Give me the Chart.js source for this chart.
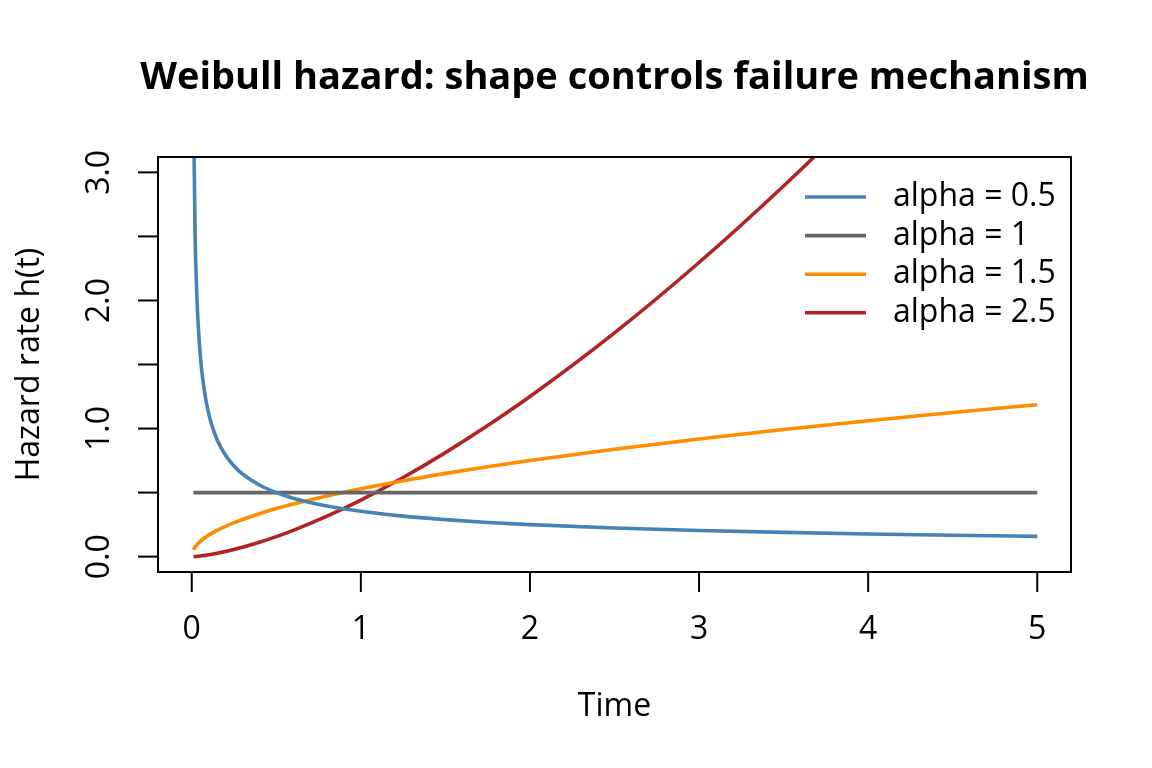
<!DOCTYPE html>
<html>
<head>
<meta charset="utf-8">
<script src="https://cdn.jsdelivr.net/npm/chart.js@4/dist/chart.umd.min.js"></script>
<style>
  html, body { margin: 0; padding: 0; background: #ffffff; }
  #wrap { width: 1152px; height: 768px; }
</style>
</head>
<body>
<div id="wrap"><canvas id="chart" width="1152" height="768"></canvas></div>
<script>
// time points and hazard values
var times = [0.01, 0.02, 0.03, 0.04, 0.05, 0.06, 0.08, 0.1, 0.12, 0.15, 0.2, 0.25, 0.3, 0.4, 0.5,
             0.6, 0.8, 1.0, 1.25, 1.5, 1.75, 2.0, 2.5, 3.0, 3.5, 4.0, 4.5, 5.0];
var hazardA05 = [3.536, 2.500, 2.041, 1.768, 1.581, 1.443, 1.250, 1.118, 1.021, 0.913, 0.791, 0.707, 0.645, 0.559, 0.500,
                 0.456, 0.395, 0.354, 0.316, 0.289, 0.267, 0.250, 0.224, 0.204, 0.189, 0.177, 0.167, 0.158];
var hazardA1 = [0.5, 0.5, 0.5, 0.5, 0.5, 0.5, 0.5, 0.5, 0.5, 0.5, 0.5, 0.5, 0.5, 0.5, 0.5,
                0.5, 0.5, 0.5, 0.5, 0.5, 0.5, 0.5, 0.5, 0.5, 0.5, 0.5, 0.5, 0.5];
var hazardA15 = [0.053, 0.075, 0.092, 0.106, 0.119, 0.130, 0.150, 0.168, 0.184, 0.205, 0.237, 0.265, 0.290, 0.335, 0.375,
                 0.411, 0.474, 0.530, 0.593, 0.650, 0.702, 0.750, 0.838, 0.919, 0.992, 1.061, 1.125, 1.186];
var hazardA25 = [0.0004, 0.0012, 0.0023, 0.0035, 0.0049, 0.0065, 0.0100, 0.0140, 0.0184, 0.0257, 0.0395, 0.0552, 0.0726, 0.1118, 0.1563,
                 0.2054, 0.3162, 0.4419, 0.6176, 0.8118, 1.0231, 1.2500, 1.7468, 2.2963, 2.8936, 3.5355, 4.2184, 4.9410];
var seriesLabels = ["alpha = 0.5", "alpha = 1", "alpha = 1.5", "alpha = 2.5"];
var seriesColors = ["#4682B4", "#666666", "#FF8C00", "#B22222"];
var xTicks = [0, 1, 2, 3, 4, 5];
var xTickLabels = ["0", "1", "2", "3", "4", "5"];
var yTicks = [0, 0.5, 1, 1.5, 2, 2.5, 3];
var yTickLabels = ["0.0", "", "1.0", "", "2.0", "", "3.0"];

var FONT = "'Open Sans', 'Noto Sans', sans-serif";

function points(ys) {
    var out = [];
    for (var i = 0; i < times.length; i++) {
        out.push({ x: times[i], y: ys[i] });
    }
    return out;
}

var allSeries = [hazardA05, hazardA1, hazardA15, hazardA25];
var datasets = [];
for (var s = 0; s < allSeries.length; s++) {
    datasets.push({
        label: seriesLabels[s],
        data: points(allSeries[s]),
        borderColor: seriesColors[s],
        backgroundColor: seriesColors[s],
        borderWidth: 3.6,
        pointRadius: 0,
        fill: false,
        cubicInterpolationMode: "monotone"
    });
}

// R-style frame: box, outside ticks, rotated y labels, titles and legend
var baseAxes = {
    id: "baseAxes",
    afterDraw: function(chart) {
        var ctx = chart.ctx;
        var area = chart.chartArea;
        var xs = chart.scales.x;
        var ys = chart.scales.y;
        ctx.save();
        ctx.strokeStyle = "#000000";
        ctx.lineWidth = 2;
        ctx.strokeRect(area.left, area.top, area.right - area.left, area.bottom - area.top);

        ctx.fillStyle = "#000000";
        ctx.font = "32px " + FONT;
        ctx.textAlign = "center";
        ctx.textBaseline = "middle";
        for (var i = 0; i < xTicks.length; i++) {
            var px = xs.getPixelForValue(xTicks[i]);
            ctx.beginPath();
            ctx.moveTo(px, area.bottom);
            ctx.lineTo(px, area.bottom + 20);
            ctx.stroke();
            ctx.fillText(xTickLabels[i], px, area.bottom + 58);
        }
        for (var j = 0; j < yTicks.length; j++) {
            var py = ys.getPixelForValue(yTicks[j]);
            ctx.beginPath();
            ctx.moveTo(area.left, py);
            ctx.lineTo(area.left - 20, py);
            ctx.stroke();
            if (yTickLabels[j]) {
                ctx.save();
                ctx.translate(area.left - 58, py);
                ctx.rotate(-Math.PI / 2);
                ctx.fillText(yTickLabels[j], 0, 0);
                ctx.restore();
            }
        }

        var cx = (area.left + area.right) / 2;
        var cy = (area.top + area.bottom) / 2;
        ctx.fillText("Time", cx, 707);
        ctx.save();
        ctx.translate(30, cy);
        ctx.rotate(-Math.PI / 2);
        ctx.fillText("Hazard rate h(t)", 0, 0);
        ctx.restore();

        ctx.font = "bold 38px " + FONT;
        ctx.fillText("Weibull hazard: shape controls failure mechanism", cx, 78);

        // legend, top right inside the plot
        ctx.font = "32px " + FONT;
        ctx.textAlign = "left";
        ctx.lineWidth = 3.6;
        for (var k = 0; k < chart.data.datasets.length; k++) {
            var ds = chart.data.datasets[k];
            var ly = area.top + 40 + k * 38.6;
            ctx.strokeStyle = ds.borderColor;
            ctx.beginPath();
            ctx.moveTo(area.right - 266, ly);
            ctx.lineTo(area.right - 205, ly);
            ctx.stroke();
            ctx.fillText(ds.label, area.right - 178, ly);
        }
        ctx.restore();
    }
};

var chart = new Chart(document.getElementById("chart"), {
    type: "line",
    data: { datasets: datasets },
    options: {
        responsive: false,
        animation: false,
        layout: {
            padding: { left: 158, right: 81, top: 157, bottom: 196 }
        },
        scales: {
            x: { type: "linear", display: false, min: -0.1996, max: 5.1996 },
            y: { type: "linear", display: false, min: -0.12, max: 3.12 }
        },
        plugins: {
            legend: { display: false },
            title: { display: false },
            tooltip: { enabled: false }
        }
    },
    plugins: [baseAxes]
});
</script>
</body>
</html>
